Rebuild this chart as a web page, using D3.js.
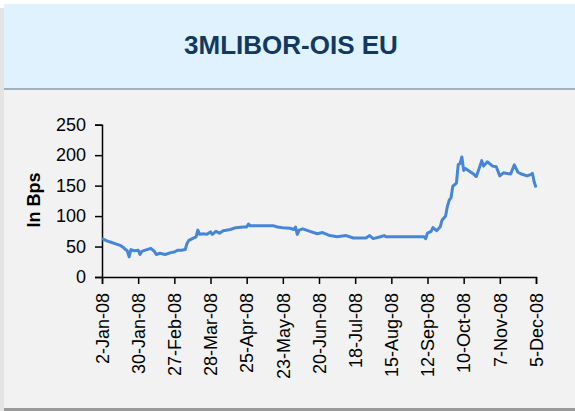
<!DOCTYPE html>
<html>
<head>
<meta charset="utf-8">
<script src="https://cdn.jsdelivr.net/npm/d3@7"></script>
<style>
  body { margin: 0; background: #ffffff; }
  svg { display: block; font-family: "Liberation Sans", Arial, sans-serif; }
</style>
</head>
<body>
<div id="chart"></div>
<script>
// business-day index (0 = 2-Jan-08, 240 = 5-Dec-08) and spread in bps
var dayIndex = [0, 3, 5, 8, 10, 12, 13, 14, 15, 16, 18, 20, 21, 22, 24, 27, 29, 30, 32, 35,
    38, 40, 42, 44, 46, 47, 48, 50, 52, 53, 54, 56, 58, 60, 61, 63, 65, 67, 71, 74,
    78, 80, 81, 82, 84, 95, 97, 100, 104, 106, 107, 108, 109, 111, 115, 119, 122, 126, 130, 135,
    139, 146, 148, 150, 154, 156, 157, 160, 170, 178, 179, 180, 182, 183, 185, 187, 188, 190, 191, 192,
    193, 194, 196, 197, 198, 199, 200, 201, 203, 205, 207, 209, 210, 211, 213, 214, 216, 218, 220, 222,
    224, 226, 228, 230, 232, 235, 237, 238, 239, 240];
var spreadBps = [63, 59, 57, 54, 52, 48, 45, 43, 33, 45, 43, 44, 37, 42, 44, 47, 42, 37, 39, 37,
    40, 41, 44, 44, 45, 55, 60, 63, 66, 77, 70, 71, 70, 74, 70, 75, 72, 76, 78, 81,
    82, 82, 87, 84, 84, 84, 82, 81, 80, 78, 82, 70, 77, 79, 75, 71, 73, 68, 66, 68,
    64, 64, 68, 63, 66, 68, 66, 66, 66, 66, 63, 72, 75, 81, 76, 82, 93, 100, 116, 126,
    130, 149, 154, 185, 186, 197, 175, 178, 174, 170, 165, 182, 191, 182, 189, 187, 182, 181, 166, 171,
    170, 169, 184, 172, 169, 166, 168, 170, 156, 147];
var tickIndex = [0, 20, 40, 60, 80, 100, 120, 140, 160, 180, 200, 220, 240];
var tickLabels = ["2-Jan-08", "30-Jan-08", "27-Feb-08", "28-Mar-08", "25-Apr-08", "23-May-08",
    "20-Jun-08", "18-Jul-08", "15-Aug-08", "12-Sep-08", "10-Oct-08", "7-Nov-08", "5-Dec-08"];
var yTicks = [0, 50, 100, 150, 200, 250];
var title = "3MLIBOR-OIS EU";

const W = 575, H = 411;
const svg = d3.select("#chart").append("svg")
    .attr("width", W)
    .attr("height", H);

// panel frame
svg.append("rect").attr("x", 0).attr("y", 8).attr("width", 4).attr("height", 403).attr("fill", "#e4e4e4");
svg.append("rect").attr("x", 4).attr("y", 4).attr("width", W - 4).attr("height", 404).attr("fill", "#f2f2f2");
svg.append("rect").attr("x", 4).attr("y", 4).attr("width", W - 4).attr("height", 85).attr("fill", "#dff2fe");
svg.append("line").attr("x1", 4).attr("x2", W).attr("y1", 89).attr("y2", 89)
    .attr("stroke", "#8c9aa8").attr("stroke-width", 1.5);
svg.append("rect").attr("x", 4).attr("y", 408).attr("width", W - 4).attr("height", 3).attr("fill", "#9a9a9a");

svg.append("text")
    .attr("x", 291).attr("y", 54)
    .attr("text-anchor", "middle")
    .attr("font-size", 26).attr("font-weight", "bold")
    .attr("fill", "#12395f")
    .text(title);

// scales
const x = d3.scaleLinear().domain([0, 240]).range([102, 536]);
const y = d3.scaleLinear().domain([0, 250]).range([277, 124.7]);

const yAxis = d3.axisLeft(y).tickValues(yTicks).tickSize(7).tickPadding(9);
const xAxis = d3.axisBottom(x).tickValues(tickIndex).tickSize(7)
    .tickFormat((d, i) => tickLabels[i]);

const gy = svg.append("g").attr("transform", "translate(102,0)").call(yAxis);
gy.selectAll("text").attr("font-size", 18).attr("fill", "#000").attr("font-family", "Liberation Sans, Arial, sans-serif");

const gx = svg.append("g").attr("transform", "translate(0,277)").call(xAxis);
gx.selectAll("text")
    .attr("font-size", 18).attr("fill", "#000")
    .attr("font-family", "Liberation Sans, Arial, sans-serif")
    .attr("transform", "rotate(-90)")
    .attr("text-anchor", "end")
    .attr("x", -16).attr("y", 0).attr("dy", "0.35em");

[gx, gy].forEach(g => {
    g.select(".domain").attr("stroke", "#000").attr("stroke-width", 1.5);
    g.selectAll(".tick line").attr("stroke", "#000").attr("stroke-width", 1.5);
});

svg.append("text")
    .attr("transform", "translate(40,200) rotate(-90)")
    .attr("text-anchor", "middle")
    .attr("font-size", 18).attr("font-weight", "bold")
    .text("In Bps");

const line = d3.line()
    .x((d, i) => x(dayIndex[i]))
    .y(d => y(d));

svg.append("path")
    .datum(spreadBps)
    .attr("d", line)
    .attr("fill", "none")
    .attr("stroke", "#4586d9")
    .attr("stroke-width", 3)
    .attr("stroke-linejoin", "round");
</script>
</body>
</html>
